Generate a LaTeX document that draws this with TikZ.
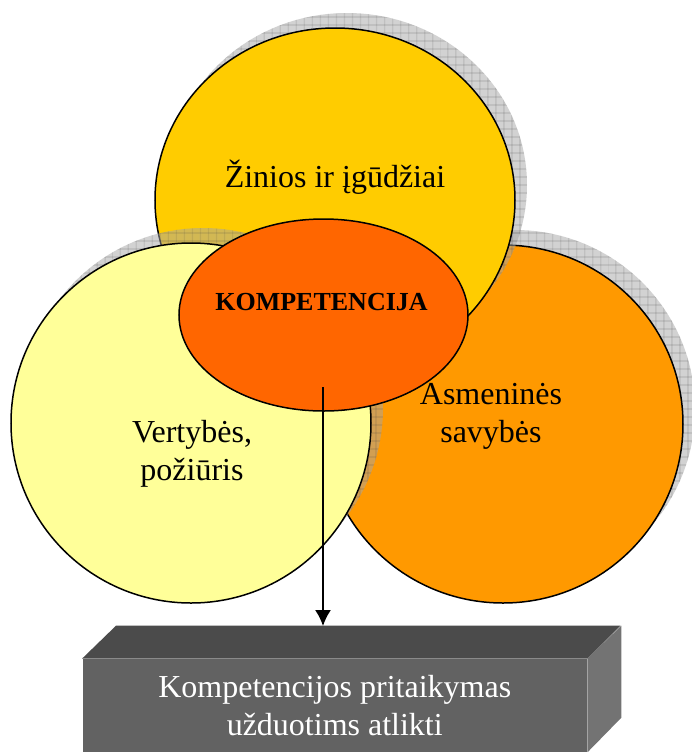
\documentclass[tikz,border=0pt]{standalone}
\usepackage{fontspec}
\setmainfont{Liberation Serif}
\usetikzlibrary{shapes.geometric,shadows,patterns.meta,arrows.meta}

\definecolor{zinioscol}{HTML}{FFCC00}
\definecolor{vertcol}{HTML}{FFFF99}
\definecolor{asmcol}{HTML}{FF9900}
\definecolor{kompcol}{HTML}{FF6600}
\definecolor{boxtop}{HTML}{4B4B4B}
\definecolor{boxfront}{HTML}{626262}
\definecolor{boxside}{HTML}{737373}

\begin{document}
\begin{tikzpicture}[x=0.5pt,y=-0.5pt,
    ring/.style={ellipse, draw=black, line width=0.75pt, inner sep=0pt},
    shadowed/.style={
        general shadow={fill=gray!70, fill opacity=0.5, shadow xshift=6pt, shadow yshift=7.5pt},
        general shadow={pattern={Lines[angle=0,distance=4pt,line width=0.3pt]}, pattern color=gray!50!black, opacity=0.35, shadow xshift=6pt, shadow yshift=7.5pt},
        general shadow={pattern={Lines[angle=90,distance=4pt,line width=0.3pt]}, pattern color=gray!50!black, opacity=0.35, shadow xshift=6pt, shadow yshift=7.5pt}},
    txt/.style={font=\fontsize{16}{19}\selectfont, align=center}]
    \useasboundingbox (0,0) rectangle (692,752);

    \node[ring, shadowed, fill=asmcol, minimum width=180pt, minimum height=179pt] (asmenines) at (503,424) {};
    \node[ring, shadowed, fill=zinioscol, minimum width=180pt, minimum height=172pt] (zinios) at (335,200) {};
    \node[ring, shadowed, fill=vertcol, minimum width=180pt, minimum height=180pt] (vertybes) at (191,423) {};
    \node[ring, fill=kompcol, minimum width=144.5pt, minimum height=96pt] (komp) at (323.5,315) {};

    \node[txt] (zintxt) at (335,177) {Žinios ir įgūdžiai};
    \node[txt] (verttxt) at (192,454) {Vertybės,\\požiūris};
    \node[txt] (asmtxt) at (491,416) {Asmeninės\\savybės};
    \node[font=\bfseries\fontsize{13}{15}\selectfont] (komptxt) at (321.5,302) {KOMPETENCIJA};

    \node[fill=boxfront, minimum width=252.25pt, minimum height=46.5pt, inner sep=0pt,
          text=white, txt] (taikymas) at (334.75,705.5) {Kompetencijos pritaikymas\\užduotims atlikti};
    \fill[boxtop] (taikymas.north west) -- ++(34,-33) -- ++(504.5,0) -- (taikymas.north east) -- cycle;
    \fill[boxside] (taikymas.north east) -- ++(34,-33) -- ++(0,92) -- (taikymas.south east) -- cycle;

    \coordinate (arrfrom) at (323,387);
    \coordinate (arrto) at (323,626);
    \draw[line width=0.8pt, -{Latex[length=8pt,width=8pt]}] (arrfrom) -- (arrto);
\end{tikzpicture}
\end{document}
